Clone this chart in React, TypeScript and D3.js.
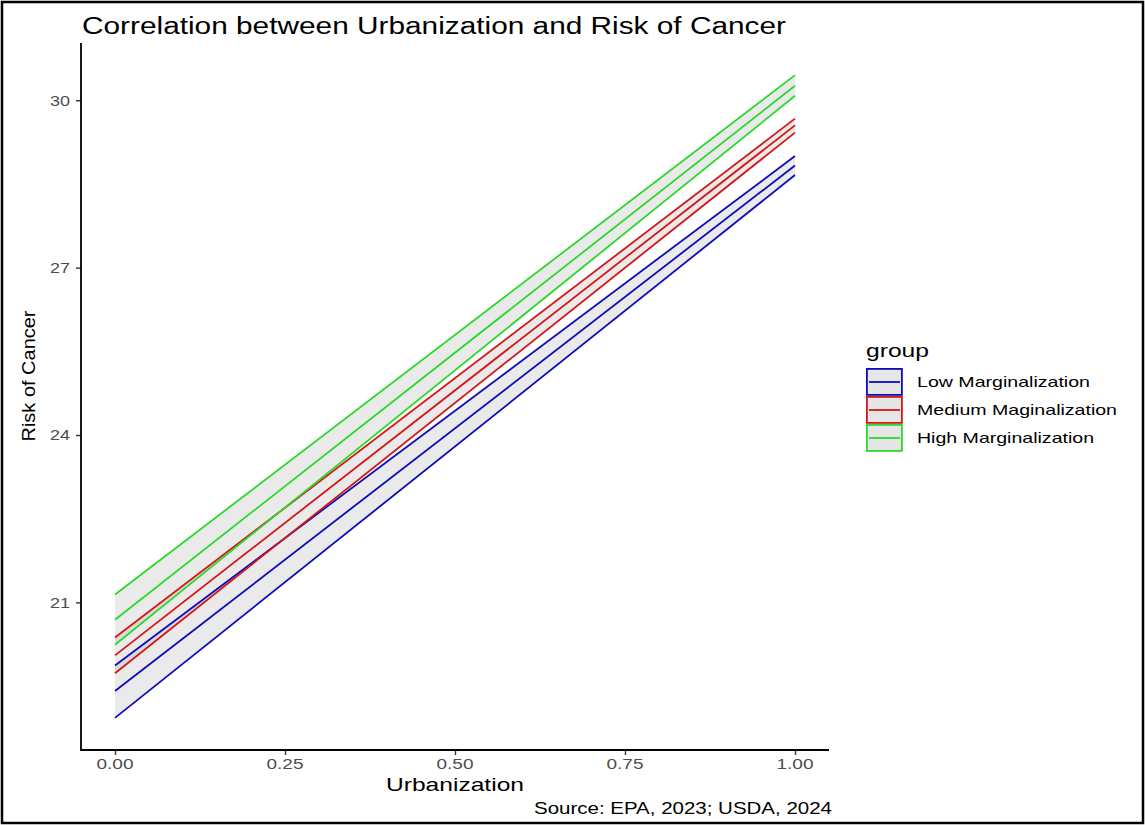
import { useEffect, useRef } from 'react'
import * as d3 from 'd3'

// data (values at Urbanization = 0 and 1)
const urbanization = [0, 1]
const groups = ['Low Marginalization', 'Medium Maginalization', 'High Marginalization']
const groupColors = ['#0c0cbc', '#d41616', '#2cd82c']

const lowFit = [19.41, 28.83]
const lowLower = [18.93, 28.66]
const lowUpper = [19.87, 29.0]
const mediumFit = [20.05, 29.55]
const mediumLower = [19.73, 29.42]
const mediumUpper = [20.37, 29.67]
const highFit = [20.69, 30.26]
const highLower = [20.24, 30.08]
const highUpper = [21.14, 30.45]

const xTicks = [0, 0.25, 0.5, 0.75, 1]
const yTicks = [21, 24, 27, 30]

const W = 1145
const H = 825

function App() {
  const svgRef = useRef<SVGSVGElement>(null)

  useEffect(() => {
    const svg = d3.select(svgRef.current)
    svg.selectAll('*').remove()

    const series = [
      { name: groups[0], color: groupColors[0], fit: lowFit, lower: lowLower, upper: lowUpper },
      { name: groups[1], color: groupColors[1], fit: mediumFit, lower: mediumLower, upper: mediumUpper },
      { name: groups[2], color: groupColors[2], fit: highFit, lower: highLower, upper: highUpper },
    ]

    // panel area
    const left = 81, right = 829, top = 43, bottom = 750

    // ggplot-style 5% expansion
    const allY = series.flatMap(s => [...s.lower, ...s.upper])
    const yMin = d3.min(allY) as number
    const yMax = d3.max(allY) as number
    const yPad = (yMax - yMin) * 0.05
    const x = d3.scaleLinear().domain([-0.05, 1.05]).range([left, right])
    const y = d3.scaleLinear().domain([yMin - yPad, yMax + yPad]).range([bottom, top])

    const font = 'Liberation Sans, Arial, Helvetica, sans-serif'

    // the reference text is stretched sideways, so pin widths with textLength
    const label = (g: any, tx: number, ty: number, str: string, size: number, len: number, anchor = 'start', fill = '#000') =>
      g.append('text')
        .attr('x', tx).attr('y', ty)
        .attr('text-anchor', anchor)
        .attr('font-family', font)
        .attr('font-size', size)
        .attr('fill', fill)
        .attr('textLength', len)
        .attr('lengthAdjust', 'spacingAndGlyphs')
        .text(str)

    svg.append('rect')
      .attr('x', 0).attr('y', 0).attr('width', W).attr('height', H)
      .attr('fill', '#fff')

    // outer frame
    svg.append('rect')
      .attr('x', 2).attr('y', 2).attr('width', W - 4).attr('height', H - 4)
      .attr('fill', 'none').attr('stroke', '#000').attr('stroke-width', 2.5)

    // ribbons
    series.forEach(s => {
      const a = d3.area<number>()
        .x((_, i) => x(urbanization[i]))
        .y0((_, i) => y(s.lower[i]))
        .y1((_, i) => y(s.upper[i]))
      svg.append('path')
        .attr('d', a(urbanization))
        .attr('fill', '#b8b8b8')
        .attr('fill-opacity', 0.3)
    })

    const line = d3.line<number>()
      .x((_, i) => x(urbanization[i]))
      .y(d => y(d))

    series.forEach(s => {
      ;[s.upper, s.fit, s.lower].forEach(vals => {
        svg.append('path')
          .attr('d', line(vals))
          .attr('fill', 'none')
          .attr('stroke', s.color)
          .attr('stroke-width', 1.8)
      })
    })

    // axes
    const xAxis = svg.append('g').attr('transform', `translate(0,${bottom})`)
      .call(d3.axisBottom(x).tickValues(xTicks).tickFormat(() => '').tickSizeOuter(0).tickSize(5))
    const yAxis = svg.append('g').attr('transform', `translate(${left},0)`)
      .call(d3.axisLeft(y).tickValues(yTicks).tickFormat(() => '').tickSizeOuter(0).tickSize(5))

    ;[xAxis, yAxis].forEach(g => {
      g.select('.domain').remove()
      g.selectAll('.tick line').attr('stroke', '#333').attr('stroke-width', 1.4)
    })

    svg.append('path')
      .attr('d', `M${left},${top}V${bottom}H${right}`)
      .attr('fill', 'none').attr('stroke', '#000').attr('stroke-width', 1.8)

    xTicks.forEach(t => label(svg, x(t), 769, d3.format('.2f')(t), 15, 37, 'middle', '#4d4d4d'))
    yTicks.forEach(t => label(svg, 70, y(t) + 5.5, String(t), 15, 20, 'end', '#4d4d4d'))

    // titles
    label(svg, 82, 34, 'Correlation between Urbanization and Risk of Cancer', 23, 704)
    label(svg, (x(0) + x(1)) / 2, 791, 'Urbanization', 19, 138, 'middle')

    svg.append('text')
      .attr('transform', `translate(35,376) rotate(-90)`)
      .attr('text-anchor', 'middle')
      .attr('font-family', font)
      .attr('font-size', 19)
      .attr('textLength', 131)
      .attr('lengthAdjust', 'spacingAndGlyphs')
      .text('Risk of Cancer')

    label(svg, 832, 814, 'Source: EPA, 2023; USDA, 2024', 16.5, 298, 'end')

    // legend
    const legend = svg.append('g').attr('transform', 'translate(866,0)')
    label(legend, 0, 357, 'group', 18, 63)

    const labelLens = [173, 200, 177]
    series.forEach((s, i) => {
      const ky = 368 + i * 28
      legend.append('rect')
        .attr('x', 0.9).attr('y', ky + 0.9).attr('width', 35).attr('height', 26)
        .attr('fill', '#e6e6e6')
        .attr('stroke', s.color).attr('stroke-width', 1.8)
      legend.append('line')
        .attr('x1', 3).attr('x2', 34)
        .attr('y1', ky + 14).attr('y2', ky + 14)
        .attr('stroke', s.color).attr('stroke-width', 1.8)
      label(legend, 51, ky + 19, s.name, 15, labelLens[i])
    })
  }, [])

  return (
    <svg
      ref={svgRef}
      width={W}
      height={H}
      style={{ position: 'absolute', left: 0, top: 0 }}
    />
  )
}

export default App
